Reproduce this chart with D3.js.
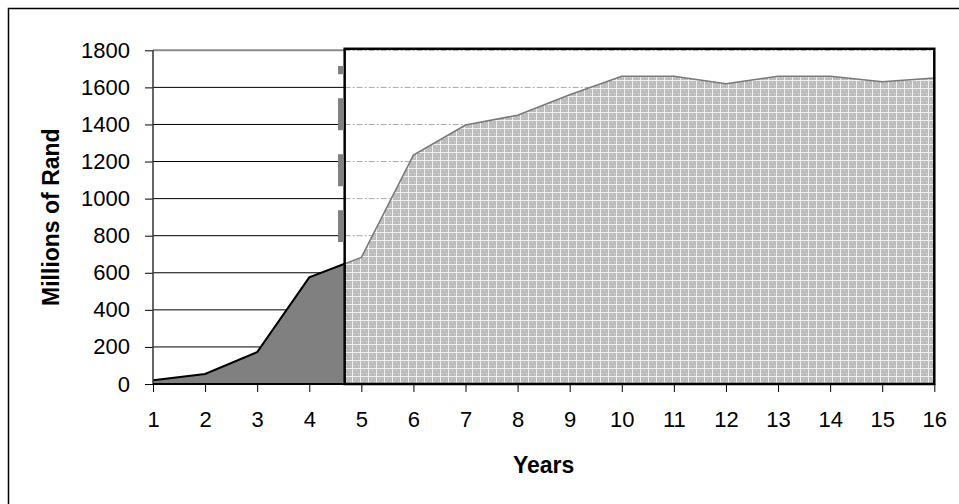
<!DOCTYPE html>
<html>
<head>
<meta charset="utf-8">
<script src="https://cdn.jsdelivr.net/npm/d3@7"></script>
<style>
  html, body { margin: 0; padding: 0; background: #fff; }
  svg { display: block; font-family: "Liberation Sans", Arial, sans-serif; }
</style>
</head>
<body>
<svg id="chart" width="959" height="504"></svg>
<script>
// Year index and cumulative value (millions of Rand)
const years = [1, 2, 3, 4, 5, 6, 7, 8, 9, 10, 11, 12, 13, 14, 15, 16];
const values = [20, 54, 172, 575, 683, 1235, 1397, 1450, 1560, 1660, 1660, 1620, 1660, 1660, 1630, 1650];
const yTicks = [0, 200, 400, 600, 800, 1000, 1200, 1400, 1600, 1800];
// Split between actual and projected period (in year units)
const projectionStart = 4.68;
// Vertical marker position (year units) and its extent (value units)
const markerYear = 4.61;
const markerRange = [766, 1715];

(function () {
const svg = d3.select("#chart");
const pLeft = 153, pRight = 934.3, pTop = 50.3, pBottom = 384;

const x = d3.scaleLinear().domain([1, 16]).range([pLeft, pRight]);
const y = d3.scaleLinear().domain([0, 1800]).range([pBottom, pTop]);

// Frame around the whole chart
svg.append("rect")
  .attr("x", 8.5).attr("y", 8.5).attr("width", 1000).attr("height", 1000)
  .attr("fill", "none").attr("stroke", "#000").attr("stroke-width", 1.5);

const defs = svg.append("defs");
const pat = defs.append("pattern")
  .attr("id", "grain").attr("patternUnits", "userSpaceOnUse")
  .attr("width", 8).attr("height", 8);
pat.append("rect").attr("width", 8).attr("height", 8).attr("fill", "#bcbcbc");
pat.append("rect").attr("width", 8).attr("height", 1).attr("fill", "#f0f0f0");
pat.append("rect").attr("width", 1).attr("height", 8).attr("fill", "#f0f0f0");
pat.append("rect").attr("x", 4).attr("y", 2).attr("width", 1).attr("height", 1).attr("fill", "#dadada");
pat.append("rect").attr("x", 2).attr("y", 5).attr("width", 1).attr("height", 1).attr("fill", "#dadada");
pat.append("rect").attr("x", 6).attr("y", 5).attr("width", 1).attr("height", 1).attr("fill", "#dadada");

const xSplit = x(projectionStart);
defs.append("clipPath").attr("id", "clipActual")
  .append("rect").attr("x", pLeft).attr("y", 0).attr("width", xSplit - pLeft).attr("height", pBottom);
defs.append("clipPath").attr("id", "clipProj")
  .append("rect").attr("x", xSplit).attr("y", pTop).attr("width", pRight - xSplit).attr("height", pBottom - pTop);

// Gridlines in the actual period
svg.append("g").selectAll("line")
  .data(yTicks.filter(d => d > 0 && d < 1800))
  .join("line")
  .attr("x1", pLeft).attr("x2", xSplit)
  .attr("y1", d => y(d)).attr("y2", d => y(d))
  .attr("stroke", "#000").attr("stroke-width", 1);
svg.append("line")
  .attr("x1", pLeft).attr("x2", xSplit).attr("y1", y(1800)).attr("y2", y(1800))
  .attr("stroke", "#8a8a8a").attr("stroke-width", 2);

const data = years.map((yr, i) => ({ yr, v: values[i] }));
const area = d3.area().x(d => x(d.yr)).y0(y(0)).y1(d => y(d.v));
const line = d3.line().x(d => x(d.yr)).y(d => y(d.v));

// Actual period: dark area with black outline
svg.append("path").datum(data)
  .attr("clip-path", "url(#clipActual)")
  .attr("d", area).attr("fill", "#808080");
svg.append("path").datum(data)
  .attr("clip-path", "url(#clipActual)")
  .attr("d", line).attr("fill", "none").attr("stroke", "#000").attr("stroke-width", 2);

// Projection panel
svg.append("rect")
  .attr("x", xSplit).attr("y", pTop - 1.5).attr("width", pRight - xSplit).attr("height", pBottom - pTop + 1.5)
  .attr("fill", "#fff");
svg.append("g").selectAll("line")
  .data(yTicks.filter(d => d > 0))
  .join("line")
  .attr("x1", xSplit).attr("x2", pRight)
  .attr("y1", d => y(d)).attr("y2", d => y(d))
  .attr("stroke", "#a8a8a8").attr("stroke-width", 1)
  .attr("stroke-dasharray", "6,2,2,2");
svg.append("path").datum(data)
  .attr("clip-path", "url(#clipProj)")
  .attr("d", area).attr("fill", "url(#grain)");
svg.append("path").datum(data)
  .attr("clip-path", "url(#clipProj)")
  .attr("d", line).attr("fill", "none").attr("stroke", "#7a7a7a").attr("stroke-width", 1.5);
svg.append("rect")
  .attr("x", xSplit).attr("y", pTop - 1.5).attr("width", pRight - xSplit).attr("height", pBottom - pTop + 1.5)
  .attr("fill", "none").attr("stroke", "#000").attr("stroke-width", 2.5);

// Dashed divider marker
const mY0 = y(markerRange[1]), mY1 = y(markerRange[0]);
svg.append("line")
  .attr("x1", x(markerYear)).attr("x2", x(markerYear))
  .attr("y1", mY0).attr("y2", mY1)
  .attr("stroke", "#808080").attr("stroke-width", 6)
  .attr("stroke-dasharray", "32,24").attr("stroke-dashoffset", 23.7);

// Axes
const yAxis = d3.axisLeft(y).tickValues(yTicks).tickFormat(d3.format("d")).tickSize(8).tickPadding(15);
const gy = svg.append("g").attr("transform", `translate(${pLeft},0)`).call(yAxis);
gy.select(".domain").remove();
gy.append("line").attr("x1", 0).attr("x2", 0).attr("y1", pTop).attr("y2", pBottom)
  .attr("stroke", "#333").attr("stroke-width", 1.5);
gy.selectAll(".tick line").attr("stroke", "#000");
gy.selectAll("text").attr("font-size", 22).attr("fill", "#000")
  .attr("font-family", "Liberation Sans, Arial, sans-serif");

const xAxis = d3.axisBottom(x).tickValues(years).tickFormat(d3.format("d")).tickSize(8).tickPadding(19);
const gx = svg.append("g").attr("transform", `translate(0,${pBottom})`).call(xAxis);
gx.select(".domain").remove();
gx.append("line").attr("x1", pLeft).attr("x2", pRight).attr("y1", 0).attr("y2", 0)
  .attr("stroke", "#000").attr("stroke-width", 2);
gx.selectAll(".tick line").attr("stroke", "#000");
gx.selectAll("text").attr("font-size", 22).attr("fill", "#000")
  .attr("font-family", "Liberation Sans, Arial, sans-serif");

// Axis titles
svg.append("text")
  .attr("transform", `translate(59,${(pTop + pBottom) / 2}) rotate(-90)`)
  .attr("text-anchor", "middle")
  .attr("font-size", 23).attr("font-weight", "bold")
  .text("Millions of Rand");
svg.append("text")
  .attr("x", (pLeft + pRight) / 2).attr("y", 473)
  .attr("text-anchor", "middle")
  .attr("font-size", 23).attr("font-weight", "bold")
  .text("Years");
})();
</script>
</body>
</html>
